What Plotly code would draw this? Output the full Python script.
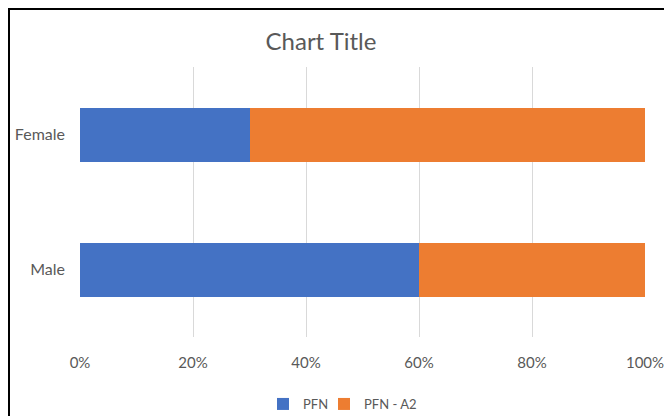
import plotly.graph_objects as go

categories = ["Male", "Female"]
pfn = [60, 30]
pfn_a2 = [40, 70]
tick_vals = [0, 0.2, 0.4, 0.6, 0.8, 1.0]
tick_text = ["0%", "20%", "40%", "60%", "80%", "100%"]

FONT = "Lato"
GREY = "#595959"

fig = go.Figure()
fig.add_trace(go.Bar(y=categories, x=pfn, name="PFN", orientation="h",
                     marker=dict(color="#4472C4", line=dict(width=0)), legend="legend"))
fig.add_trace(go.Bar(y=categories, x=pfn_a2, name="PFN - A2", orientation="h",
                     marker=dict(color="#ED7D31", line=dict(width=0)), legend="legend2"))

# page body has an 8px margin, so the figure starts at (8, 8) of the window
W, H = 664, 408
L, R, T, B = 72, 27, 59, 79
pw, ph = W - L - R, H - T - B

def px(x):
    return (x - L) / pw

def py(y):
    return 1 - (y - T) / ph

legend_style = dict(orientation="h", xref="container", yref="container",
                    y=1 - 396 / H, xanchor="left", yanchor="middle",
                    font=dict(size=13, color=GREY), bgcolor="rgba(0,0,0,0)")

fig.update_layout(
    width=W, height=H,
    barmode="stack", barnorm="fraction", bargap=0.6,
    margin=dict(l=L, r=R, t=T, b=B, pad=0, autoexpand=False),
    paper_bgcolor="white", plot_bgcolor="white",
    font=dict(family=FONT, color=GREY, size=15),
    title=dict(text="Chart Title", x=313 / W, xref="container", y=1 - 34 / H, yref="container",
               xanchor="center", yanchor="middle",
               font=dict(family=FONT, size=24, color=GREY)),
    xaxis=dict(range=[0, 1], tickvals=tick_vals, ticktext=tick_text,
               showgrid=True, gridcolor="#D9D9D9", gridwidth=1,
               zeroline=False, showline=False, ticks="", automargin=False,
               ticklabelstandoff=15, tickfont=dict(size=15, color=GREY)),
    yaxis=dict(showgrid=False, zeroline=False, showline=False, ticks="", automargin=False,
               ticklabelstandoff=14, tickfont=dict(size=16, color=GREY)),
    legend=dict(x=255 / W, **legend_style),
    legend2=dict(x=316 / W, **legend_style),
    showlegend=True,
    shapes=[
        dict(type="line", xref="paper", yref="paper", x0=px(0), x1=px(700), y0=py(1), y1=py(1),
             line=dict(color="black", width=2)),
        dict(type="line", xref="paper", yref="paper", x0=px(1), x1=px(1), y0=py(0), y1=py(430),
             line=dict(color="black", width=2)),
    ],
)

fig.write_html("out.html")
